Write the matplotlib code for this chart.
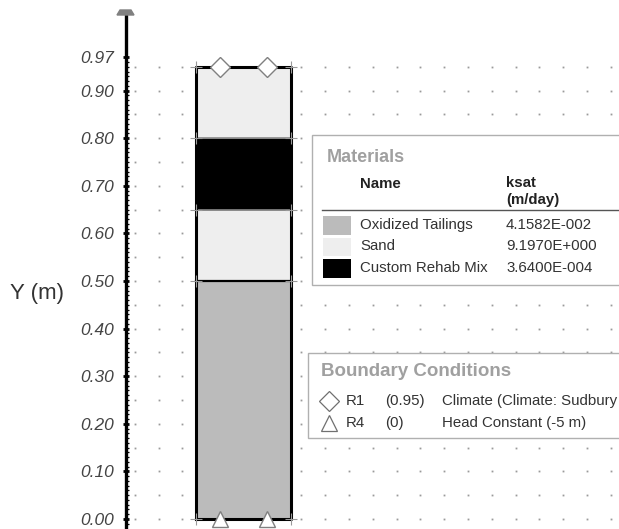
import numpy as np
import matplotlib
matplotlib.use('Agg')
import matplotlib.pyplot as plt
import matplotlib.ticker as ticker
from matplotlib.patches import Rectangle, Polygon
from matplotlib.transforms import Affine2D

plt.rcParams['font.family'] = ['Liberation Sans', 'DejaVu Sans']

# Datos de las capas de la columna
layer_material = ['Oxidized Tailings', 'Sand', 'Custom Rehab Mix', 'Sand']
layer_bottom = [0.0, 0.50, 0.65, 0.80]
layer_top = [0.50, 0.65, 0.80, 0.95]
column_width = 0.2

# Tabla de materiales
materials = ['Oxidized Tailings', 'Sand', 'Custom Rehab Mix']
ksat = ['4.1582E-002', '9.1970E+000', '3.6400E-004']
material_colors = ['#bbbbbb', '#eeeeee', '#000000']

# Condiciones de frontera (el texto de R1 aparece cortado en la imagen original)
bc_names = ['R1', 'R4']
bc_y = [0.95, 0.0]
bc_labels = ['(0.95)', '(0)']
bc_desc = ['Climate (Climate: Sudbury', 'Head Constant (-5 m)']
bc_markers = ['D', '^']
bc_x = [0.05, 0.15]

# Ticks del eje Y
y_ticks = [0.0, 0.1, 0.2, 0.3, 0.4, 0.5, 0.6, 0.7, 0.8, 0.9, 0.97]
y_tick_labels = ['0.00', '0.10', '0.20', '0.30', '0.40', '0.50', '0.60',
                 '0.70', '0.80', '0.90', '0.97']

W, H = 619, 529
scale = 476.0  # pixeles por metro
x0_px, y0_px = 195.7, 519.0

fig = plt.figure(figsize=(W / 100, H / 100), dpi=100)
ax = fig.add_axes([0, 0, 1, 1])
ax.set_xlim(-x0_px / scale, (W - x0_px) / scale)
ax.set_ylim(-(H - y0_px) / scale, y0_px / scale)
ax.patch.set_visible(False)

# transformacion en pixeles (origen arriba a la izquierda)
tpx = Affine2D().scale(1 / W, -1 / H).translate(0, 1) + fig.transFigure

# Puntos de la rejilla
gx = np.arange(-0.128, 0.88, 0.05)
gy = np.arange(0, 0.96, 0.05)
GX, GY = np.meshgrid(gx, gy)
ax.plot(GX.ravel(), GY.ravel(), ls='none', marker='s', ms=1.3, color='#9a9a9a', mew=0, zorder=1)

# Capas de la columna
color_map = dict(zip(materials, material_colors))
for mat, yb, yt in zip(layer_material, layer_bottom, layer_top):
    ax.add_patch(Rectangle((0, yb), column_width, yt - yb, facecolor=color_map[mat],
                           edgecolor='#8a8a8a', lw=1.2, zorder=2))
ax.plot([0, column_width], [0.5, 0.5], color='black', lw=1.6, zorder=3)
ax.plot([0, 0, column_width, column_width, 0],
        [layer_bottom[0], layer_top[-1], layer_top[-1], layer_bottom[0], layer_bottom[0]],
        color='black', lw=2.2, zorder=3)

# Cruces en las esquinas
corners_y = sorted(set(layer_bottom + layer_top))
for yy in corners_y:
    ax.plot([0, column_width], [yy, yy], ls='none', marker='+', ms=9, mew=0.8,
            color='#999999', zorder=4)

# Marcadores de condiciones de frontera
for m, yy in zip(bc_markers, bc_y):
    ax.plot(bc_x, [yy] * len(bc_x), ls='none', marker=m, ms=10 if m == 'D' else 12,
            mfc='white', mec='#808080', mew=1.0, zorder=6, clip_on=False)

# Eje Y
for s in ['top', 'right', 'bottom']:
    ax.spines[s].set_visible(False)
ax.spines['left'].set_position(('data', (126 - x0_px) / scale))
ax.spines['left'].set_bounds(-(H - y0_px) / scale, (y0_px - 15) / scale)
ax.spines['left'].set_linewidth(2.4)
ax.set_xticks([])
ax.set_yticks(y_ticks)
ax.set_yticklabels(y_tick_labels)
ax.yaxis.set_minor_locator(ticker.FixedLocator(np.arange(-0.01, 0.975, 0.01)))
ax.tick_params(axis='y', which='major', direction='inout', length=5, width=2,
               pad=6, labelsize=12.5, labelcolor='#444444')
ax.tick_params(axis='y', which='minor', direction='in', length=2.5, width=0.9)
for lbl in ax.get_yticklabels():
    lbl.set_fontstyle('italic')

ax.add_patch(Polygon([(117, 15), (134, 15), (131, 10), (120, 10)], closed=True,
                     transform=tpx, color='#808080', zorder=5, clip_on=False))
fig.text(37 / W, 1 - 293 / H, 'Y (m)', fontsize=16, color='#333333', ha='center', va='center')

# Panel de materiales
ax.add_patch(Rectangle((312, 135), 340, 150, transform=tpx, facecolor='white',
                       edgecolor='#b0b0b0', lw=1.0, zorder=7, clip_on=True))
ax.text(327, 157, 'Materials', transform=tpx, fontsize=13, fontweight='bold',
        color='#a0a0a0', va='center', zorder=8)
ax.text(360, 184, 'Name', transform=tpx, fontsize=10.8, fontweight='bold',
        color='#222222', va='center', zorder=8)
ax.text(506, 183, 'ksat', transform=tpx, fontsize=10.8, fontweight='bold',
        color='#222222', va='center', zorder=8)
ax.text(506, 200, '(m/day)', transform=tpx, fontsize=10.8, fontweight='bold',
        color='#222222', va='center', zorder=8)
ax.plot([322, 640], [210, 210], transform=tpx, color='#555555', lw=1.0, zorder=8)
for i, (name, k, c) in enumerate(zip(materials, ksat, material_colors)):
    yy = 225 + i * 21.5
    ax.add_patch(Rectangle((323, yy - 9), 28, 18.5, transform=tpx, facecolor=c,
                           edgecolor='none', zorder=8))
    ax.text(360, yy, name, transform=tpx, fontsize=10.8, color='#333333',
            va='center', zorder=8)
    ax.text(506, yy, k, transform=tpx, fontsize=10.8, color='#333333',
            va='center', zorder=8)

# Panel de condiciones de frontera
ax.add_patch(Rectangle((308, 353), 340, 85, transform=tpx, facecolor='white',
                       edgecolor='#b0b0b0', lw=1.0, zorder=7, clip_on=True))
ax.text(321, 372, 'Boundary Conditions', transform=tpx, fontsize=13.5, fontweight='bold',
        color='#a0a0a0', va='center', zorder=8)
for i, (nm, lab, desc, m) in enumerate(zip(bc_names, bc_labels, bc_desc, bc_markers)):
    yy = 401 + i * 22
    ax.plot([329], [yy], transform=tpx, ls='none', marker=m, ms=10.5 if m == 'D' else 12,
            mfc='white', mec='#707070', mew=0.9, zorder=8)
    ax.text(346, yy, nm, transform=tpx, fontsize=10.8, color='#333333', va='center', zorder=8)
    ax.text(385, yy, lab, transform=tpx, fontsize=10.8, color='#333333', va='center', zorder=8)
    ax.text(442, yy, desc, transform=tpx, fontsize=10.8, color='#333333', va='center', zorder=8)

fig.savefig('out.png', dpi=100)
